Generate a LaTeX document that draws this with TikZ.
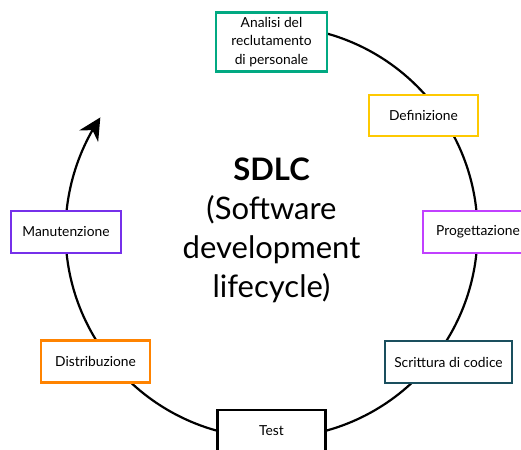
\documentclass[tikz,border=0pt]{standalone}
\usepackage{fontspec}
\setmainfont{Lato}
\usetikzlibrary{arrows.meta,bending}
\definecolor{cgreen}{HTML}{01A982}
\definecolor{cgold}{HTML}{FEC901}
\definecolor{cmagenta}{HTML}{C140FF}
\definecolor{cteal}{HTML}{1A4F5E}
\definecolor{corange}{HTML}{FF8300}
\definecolor{cpurple}{HTML}{7630EA}
\begin{document}
\begin{tikzpicture}[x=1pt,y=1pt,
  phase/.style={draw=#1, line width=2.2pt, fill=white, align=center,
    inner sep=0pt, minimum width=110pt, minimum height=42pt,
    font=\fontsize{13.8}{18.5}\selectfont},
  cycleline/.style={line width=2.2pt, black}]
\useasboundingbox (0,0) rectangle (521,449);
\clip (0,0) rectangle (521,449);
\coordinate (c) at (271.5,217);
% cycle with arrow head
\draw[cycleline, -{Stealth[length=22pt,width=22pt,inset=7pt,flex]}]
  ([shift={(90:206)}]c) arc[start angle=90, end angle=-213.8, radius=206pt];
% phases
\node[phase=cgreen, minimum width=111pt, minimum height=59pt] (analisi) at (271.5,407)
  {Analisi del\\reclutamento\\di personale};
\node[phase=cgold, minimum width=109pt, minimum height=41pt] (def) at (423.5,333.5) {Definizione};
\node[phase=cmagenta] (prog) at (478,217) {Progettazione};
\node[phase=cteal, minimum width=127pt] (scr) at (448.5,87) {Scrittura di codice};
\node[phase=black, minimum width=108pt] (test) at (271.5,18) {Test};
\node[phase=corange, minimum width=109pt] (dist) at (95.5,87.5) {Distribuzione};
\node[phase=cpurple] (man) at (66,217) {Manutenzione};
% title
\node[align=center, font=\fontsize{31}{39}\selectfont] (title) at (271.5,219)
  {\textbf{SDLC}\\(Software\\development\\lifecycle)};
\end{tikzpicture}
\end{document}
